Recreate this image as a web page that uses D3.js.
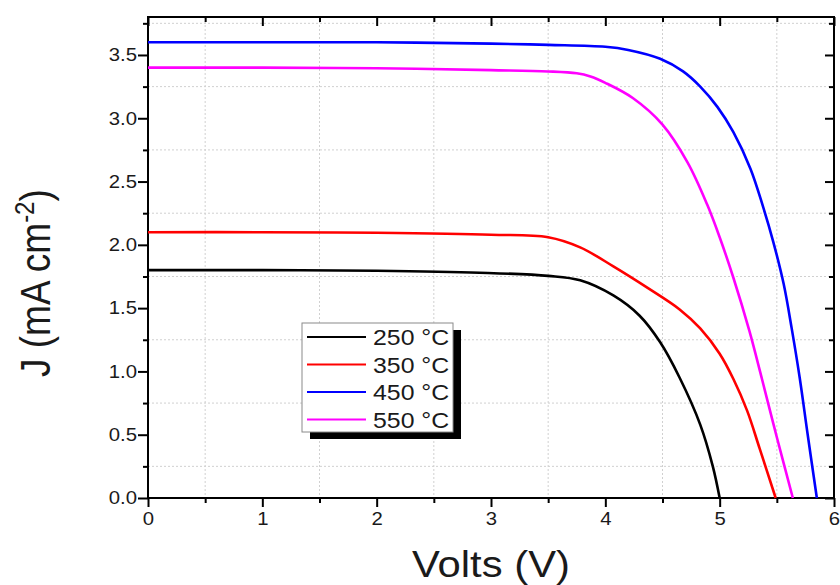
<!DOCTYPE html>
<html lang="en">
<head>
<meta charset="utf-8">
<title>J-V curves</title>
<script src="https://d3js.org/d3.v7.min.js"></script>
<style>
  body { margin: 0; background: #fff; }
  text { font-family: "Liberation Sans", Arial, sans-serif; fill: #1a1a1a; }
</style>
</head>
<body>
<div id="chart"></div>
<script>

// data (V in volts, J in mA cm-2)
var v250 = [0, 1, 2, 2.9, 3.5, 3.78, 4.07, 4.3, 4.48, 4.65, 4.83, 4.94, 5.0];
var j250 = [1.80, 1.80, 1.795, 1.78, 1.755, 1.72, 1.60, 1.44, 1.23, 0.95, 0.58, 0.25, 0];

var v350 = [0, 1, 2, 3, 3.5, 3.78, 4.07, 4.37, 4.65, 4.83, 5.0, 5.12, 5.24, 5.35, 5.49];
var j350 = [2.10, 2.10, 2.095, 2.08, 2.06, 1.98, 1.83, 1.66, 1.49, 1.34, 1.14, 0.94, 0.69, 0.39, 0];

var v450 = [0, 1, 2, 3, 3.5, 4.0, 4.2, 4.48, 4.68, 4.83, 4.98, 5.12, 5.27, 5.38, 5.47, 5.56, 5.63, 5.70, 5.77, 5.85];
var j450 = [3.60, 3.60, 3.60, 3.59, 3.58, 3.565, 3.54, 3.47, 3.37, 3.25, 3.09, 2.89, 2.60, 2.30, 2.02, 1.69, 1.34, 0.95, 0.50, 0];

var v550 = [0, 1, 2, 3, 3.5, 3.75, 3.87, 4.0, 4.24, 4.5, 4.72, 4.89, 5.0, 5.12, 5.26, 5.37, 5.50, 5.64];
var j550 = [3.40, 3.40, 3.395, 3.38, 3.37, 3.355, 3.33, 3.28, 3.16, 2.95, 2.65, 2.32, 2.06, 1.74, 1.32, 0.94, 0.48, 0];

var seriesNames = ["250 \u00B0C", "350 \u00B0C", "450 \u00B0C", "550 \u00B0C"];
var seriesColors = ["#000000", "#ff0000", "#0000ff", "#ff00ff"];

var xMajor = [0, 1, 2, 3, 4, 5, 6];
var xMinor = [0.5, 1.5, 2.5, 3.5, 4.5, 5.5];
var yMajor = [0, 0.5, 1.0, 1.5, 2.0, 2.5, 3.0, 3.5];
var yMinor = [0.25, 0.75, 1.25, 1.75, 2.25, 2.75, 3.25, 3.75];

var series = [
  {name: seriesNames[0], color: seriesColors[0], v: v250, j: j250},
  {name: seriesNames[1], color: seriesColors[1], v: v350, j: j350},
  {name: seriesNames[2], color: seriesColors[2], v: v450, j: j450},
  {name: seriesNames[3], color: seriesColors[3], v: v550, j: j550}
];

// the original picture is a bit wider than tall, text is stretched
var sx = 1.13;

var margin = {top: 17, right: 6, bottom: 87, left: 148},
    width = 840 - margin.left - margin.right,
    height = 585 - margin.top - margin.bottom;

var svg = d3.select("#chart")
  .append("svg")
    .attr("width", 840)
    .attr("height", 585)
  .append("g")
    .attr("transform", "translate(" + margin.left + "," + margin.top + ")");

var x = d3.scaleLinear().domain([0, 6]).range([0, width]);
var y = d3.scaleLinear().domain([0, 3.8]).range([height, 0]);

// dotted grid on the minor positions
svg.append("g").selectAll("line")
  .data(xMinor)
  .enter().append("line")
    .attr("x1", function(d) { return x(d); })
    .attr("x2", function(d) { return x(d); })
    .attr("y1", 0).attr("y2", height)
    .attr("stroke", "#d0d0d0").attr("stroke-width", 1)
    .attr("stroke-dasharray", "2,2");
svg.append("g").selectAll("line")
  .data(yMinor)
  .enter().append("line")
    .attr("y1", function(d) { return y(d); })
    .attr("y2", function(d) { return y(d); })
    .attr("x1", 0).attr("x2", width)
    .attr("stroke", "#d0d0d0").attr("stroke-width", 1)
    .attr("stroke-dasharray", "2,2");

// stretch the tick labels like the original
function stretchLabels(g) {
  g.selectAll("text").each(function() {
    var t = d3.select(this);
    var tx = +t.attr("x") || 0;
    t.attr("x", 0).attr("transform", "translate(" + tx + ",0) scale(" + sx + ",1)");
  });
}

function styleAxis(g) {
  g.select(".domain").remove();
  g.selectAll("line").attr("stroke", "#000").attr("stroke-width", 2);
  g.selectAll("text")
    .style("font-size", "18px")
    .style("font-family", "'Liberation Sans', Arial, sans-serif")
    .attr("fill", "#1a1a1a");
}

// bottom axis (outward ticks)
svg.append("g")
  .attr("transform", "translate(0," + height + ")")
  .call(d3.axisBottom(x).tickValues(xMajor).tickSize(9).tickPadding(5).tickFormat(d3.format("d")))
  .call(styleAxis).call(stretchLabels);
svg.append("g")
  .attr("transform", "translate(0," + height + ")")
  .call(d3.axisBottom(x).tickValues(xMinor).tickSize(5).tickFormat(""))
  .call(styleAxis);

// left axis (outward ticks)
svg.append("g")
  .call(d3.axisLeft(y).tickValues(yMajor).tickSize(10).tickPadding(1).tickFormat(d3.format(".1f")))
  .call(styleAxis).call(stretchLabels);
svg.append("g")
  .call(d3.axisLeft(y).tickValues(yMinor).tickSize(5).tickFormat(""))
  .call(styleAxis);

// top and right axes, ticks pointing in
svg.append("g")
  .call(d3.axisTop(x).tickValues(xMajor).tickSize(-9).tickFormat(""))
  .call(styleAxis);
svg.append("g")
  .call(d3.axisTop(x).tickValues(xMinor).tickSize(-5).tickFormat(""))
  .call(styleAxis);
svg.append("g")
  .attr("transform", "translate(" + width + ",0)")
  .call(d3.axisRight(y).tickValues(yMajor).tickSize(-9).tickFormat(""))
  .call(styleAxis);
svg.append("g")
  .attr("transform", "translate(" + width + ",0)")
  .call(d3.axisRight(y).tickValues(yMinor).tickSize(-5).tickFormat(""))
  .call(styleAxis);

// frame
svg.append("rect")
  .attr("x", 0).attr("y", 0)
  .attr("width", width).attr("height", height)
  .attr("fill", "none").attr("stroke", "#000").attr("stroke-width", 2);

// curves
var line = d3.line()
  .x(function(d) { return x(d[0]); })
  .y(function(d) { return y(d[1]); })
  .curve(d3.curveCatmullRom.alpha(0.5));

series.forEach(function(s) {
  var pts = s.v.map(function(v, i) { return [v, s.j[i]]; });
  svg.append("path")
    .datum(pts)
    .attr("d", line)
    .attr("fill", "none")
    .attr("stroke", s.color)
    .attr("stroke-width", 2.6)
    .attr("stroke-linejoin", "round");
});

// legend box with black drop shadow
var lg = svg.append("g").attr("transform", "translate(" + (302 - margin.left) + "," + (323 - margin.top) + ")");
lg.append("rect")
  .attr("x", 8).attr("y", 7).attr("width", 151).attr("height", 109)
  .attr("fill", "#000");
lg.append("rect")
  .attr("x", 0).attr("y", 0).attr("width", 151).attr("height", 109)
  .attr("fill", "#fff").attr("stroke", "#8a8a8a").attr("stroke-width", 1);

series.forEach(function(s, i) {
  var ry = 14 + i * 27.5;
  lg.append("line")
    .attr("x1", 5).attr("x2", 64)
    .attr("y1", ry).attr("y2", ry)
    .attr("stroke", s.color).attr("stroke-width", 2);
  lg.append("text")
    .attr("transform", "translate(71," + (ry + 8) + ") scale(" + sx + ",1)")
    .style("font-size", "22px")
    .text(s.name);
});

// axis titles
svg.append("text")
  .attr("transform", "translate(" + (width / 2) + "," + (577 - margin.top) + ") scale(" + sx + ",1)")
  .attr("text-anchor", "middle")
  .style("font-size", "37px")
  .text("Volts (V)");

var yl = svg.append("text")
  .attr("transform", "translate(" + (50 - margin.left) + "," + (377 - margin.top) + ") scale(" + sx + ",1) rotate(-90)")
  .attr("text-anchor", "start")
  .style("font-size", "37px");
yl.append("tspan").text("J (mA cm");
yl.append("tspan").attr("dy", -14).style("font-size", "24px").text("-2");
yl.append("tspan").attr("dy", 14).text(")");

</script>
</body>
</html>
